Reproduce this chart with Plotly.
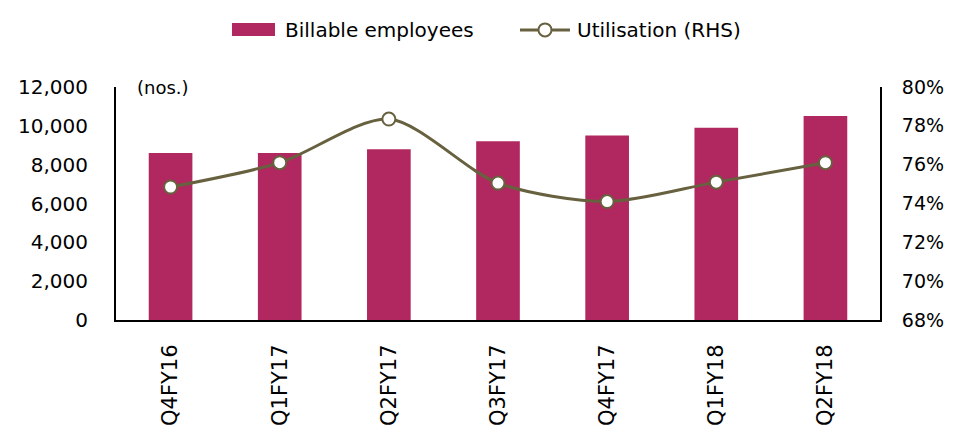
import plotly.graph_objects as go

categories = ["Q4FY16", "Q1FY17", "Q2FY17", "Q3FY17", "Q4FY17", "Q1FY18", "Q2FY18"]
billable = [8600, 8600, 8800, 9200, 9500, 9900, 10500]
utilisation = [74.85, 76.1, 78.35, 75.05, 74.1, 75.1, 76.1]
left_ticks = [0, 2000, 4000, 6000, 8000, 10000, 12000]
right_ticks = [68, 70, 72, 74, 76, 78, 80]
right_labels = [f"{v}%" for v in right_ticks]

FONT = "DejaVu Sans"
BAR_C = "#B0285F"
LINE_C = "#67613F"

fig = go.Figure()
fig.add_trace(go.Bar(
    x=categories, y=billable, name="Billable employees",
    marker=dict(color=BAR_C, line=dict(width=0)),
))
fig.add_trace(go.Scatter(
    x=categories, y=utilisation, name="Utilisation (RHS)", yaxis="y2",
    mode="lines+markers", line=dict(color=LINE_C, width=3, shape="spline", smoothing=0.8),
    marker=dict(size=13, color="white", line=dict(color=LINE_C, width=2)),
))

# custom legend (paper coordinates)
shapes = [
    dict(type="rect", xref="paper", yref="paper", x0=0.1518, x1=0.2081, y0=1.219, y1=1.275,
         fillcolor=BAR_C, line=dict(width=0)),
    dict(type="line", xref="paper", yref="paper", x0=0.5288, x1=0.5942, y0=1.245, y1=1.245,
         line=dict(color=LINE_C, width=3)),
    dict(type="circle", xref="paper", yref="paper", x0=0.5615 - 0.0085, x1=0.5615 + 0.0085,
         y0=1.245 - 0.028, y1=1.245 + 0.028, fillcolor="white", line=dict(color=LINE_C, width=2)),
]
annotations = [
    dict(text="Billable employees", x=0.2186, y=1.245, xref="paper", yref="paper",
         xanchor="left", yanchor="middle", showarrow=False, font=dict(size=20)),
    dict(text="Utilisation (RHS)", x=0.6008, y=1.245, xref="paper", yref="paper",
         xanchor="left", yanchor="middle", showarrow=False, font=dict(size=20)),
    dict(text="(nos.)", x=0.025, y=1.0, xref="paper", yref="paper",
         xanchor="left", yanchor="middle", showarrow=False, font=dict(size=18)),
]

fig.update_layout(
    width=957, height=426,
    margin=dict(l=108, r=85, t=79, b=114, autoexpand=False),
    paper_bgcolor="white", plot_bgcolor="white",
    font=dict(family=FONT, size=20, color="black"),
    bargap=0.6,
    showlegend=False,
    xaxis=dict(tickangle=-90, showline=True, linecolor="black", linewidth=2,
               ticks="", tickfont=dict(size=21), ticklabelstandoff=14, automargin=False),
    yaxis=dict(range=[0, 12000], tickvals=left_ticks, tickformat=",", showgrid=False,
               showline=True, linecolor="black", linewidth=2, ticks="",
               ticklabelstandoff=22, zeroline=False, automargin=False),
    yaxis2=dict(range=[68, 80], tickvals=right_ticks, ticktext=right_labels, overlaying="y",
                side="right", showgrid=False, showline=True, linecolor="black",
                linewidth=2, ticks="", ticklabelstandoff=16, zeroline=False, automargin=False,
                tickfont=dict(size=19)),
    shapes=shapes,
    annotations=annotations,
)
fig.write_html("out.html")
